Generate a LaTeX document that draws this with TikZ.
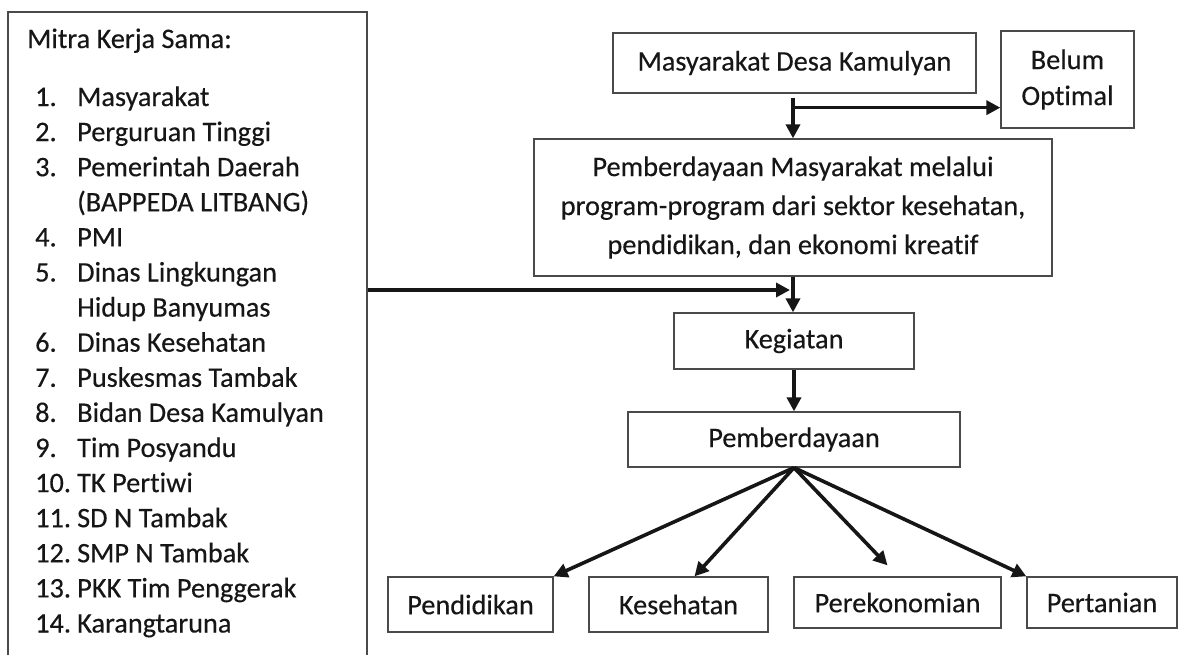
\documentclass[tikz,border=0pt]{standalone}
\usepackage{fontspec}
\setmainfont{Carlito}[Ligatures=NoCommon, FakeBold=0.35]
\usetikzlibrary{arrows.meta}
\definecolor{ink}{HTML}{161616}
\definecolor{frame}{HTML}{4A4A4A}
\begin{document}
\begin{tikzpicture}[x=1pt,y=-1pt,
  every node/.style={font=\fontsize{28.3}{36}\selectfont, text=ink},
  box/.style={draw=frame, line width=1.3pt, inner sep=0pt, align=center},
  conn/.style={draw=ink, line width=3.6pt, -{Triangle[length=14pt,width=14pt]}},
  listtext/.style={anchor=base west, inner sep=0pt}
]
\useasboundingbox (0,0) rectangle (1178,654);
\clip (0,0) rectangle (1178,654);
\fill[white] (0,0) rectangle (1178,654);

% left box
\node[box, minimum width=359pt, minimum height=658pt] (mitra) at (187.5,341) {};
\node[listtext] (title) at (27,48) {Mitra Kerja Sama:};
\foreach \k/\t in {0/Masyarakat, 1/Perguruan Tinggi, 2/Pemerintah Daerah, 3/{(BAPPEDA LITBANG)},
  4/PMI, 5/Dinas Lingkungan, 6/Hidup Banyumas, 7/Dinas Kesehatan, 8/Puskesmas Tambak,
  9/Bidan Desa Kamulyan, 10/Tim Posyandu, 11/TK Pertiwi, 12/SD N Tambak, 13/SMP N Tambak,
  14/PKK Tim Penggerak, 15/Karangtaruna}
  \node[listtext] (t\k) at (77,106+35.1*\k) {\t};
\foreach \k/\n in {0/1, 1/2, 2/3, 4/4, 5/5, 7/6, 8/7, 9/8, 10/9, 11/10, 12/11, 13/12, 14/13, 15/14}
  \node[listtext] (n\n) at (35,106+35.1*\k) {\n.};

% right side boxes
\node[box, minimum width=363pt, minimum height=60pt] (masy) at (794.5,63) {Masyarakat Desa Kamulyan};
\node[box, minimum width=133pt, minimum height=97pt, font=\fontsize{28.3}{36}\selectfont] (belum) at (1067.5,79.5) {Belum\\Optimal};
\node[box, minimum width=518pt, minimum height=137pt, font=\fontsize{28.3}{39}\selectfont] (pm) at (793,207.5)
  {Pemberdayaan Masyarakat melalui\\program-program dari sektor kesehatan,\\pendidikan, dan ekonomi kreatif};
\node[box, minimum width=240pt, minimum height=56pt] (keg) at (794,341) {Kegiatan};
\node[box, minimum width=332pt, minimum height=55pt] (pemb) at (794,439.5) {Pemberdayaan};
\node[box, minimum width=165pt, minimum height=55pt] (pend) at (470.5,604.5) {Pendidikan};
\node[box, minimum width=179pt, minimum height=55pt] (kes) at (678.5,604.5) {Kesehatan};
\node[box, minimum width=207pt, minimum height=51pt] (ekon) at (897.5,602.5) {Perekonomian};
\node[box, minimum width=150pt, minimum height=51pt] (tani) at (1102,602.5) {Pertanian};

% connectors
\path (masy.south -| pm.north) ++(0,4) coordinate (a0);
\path (a0) ++(0,10) coordinate (br);
\draw[conn] (a0) -- (pm.north);
\draw[conn] (br) -- (br -| belum.west);
\draw[conn] (pm.south) -- (pm.south |- keg.north);
\coordinate (j) at (790,290);
\draw[conn] (mitra.east |- j) -- (j);
\draw[conn] (keg.south) -- (keg.south |- pemb.north);
\coordinate (f) at (pemb.south);
\draw[conn] (f) -- (pend.north east);
\draw[conn] (f) -- ([xshift=16pt]kes.north);
\draw[conn] (f) -- ([shift={(-10,-11)}]ekon.north);
\draw[conn] (f) -- (tani.north west);
\end{tikzpicture}
\end{document}
